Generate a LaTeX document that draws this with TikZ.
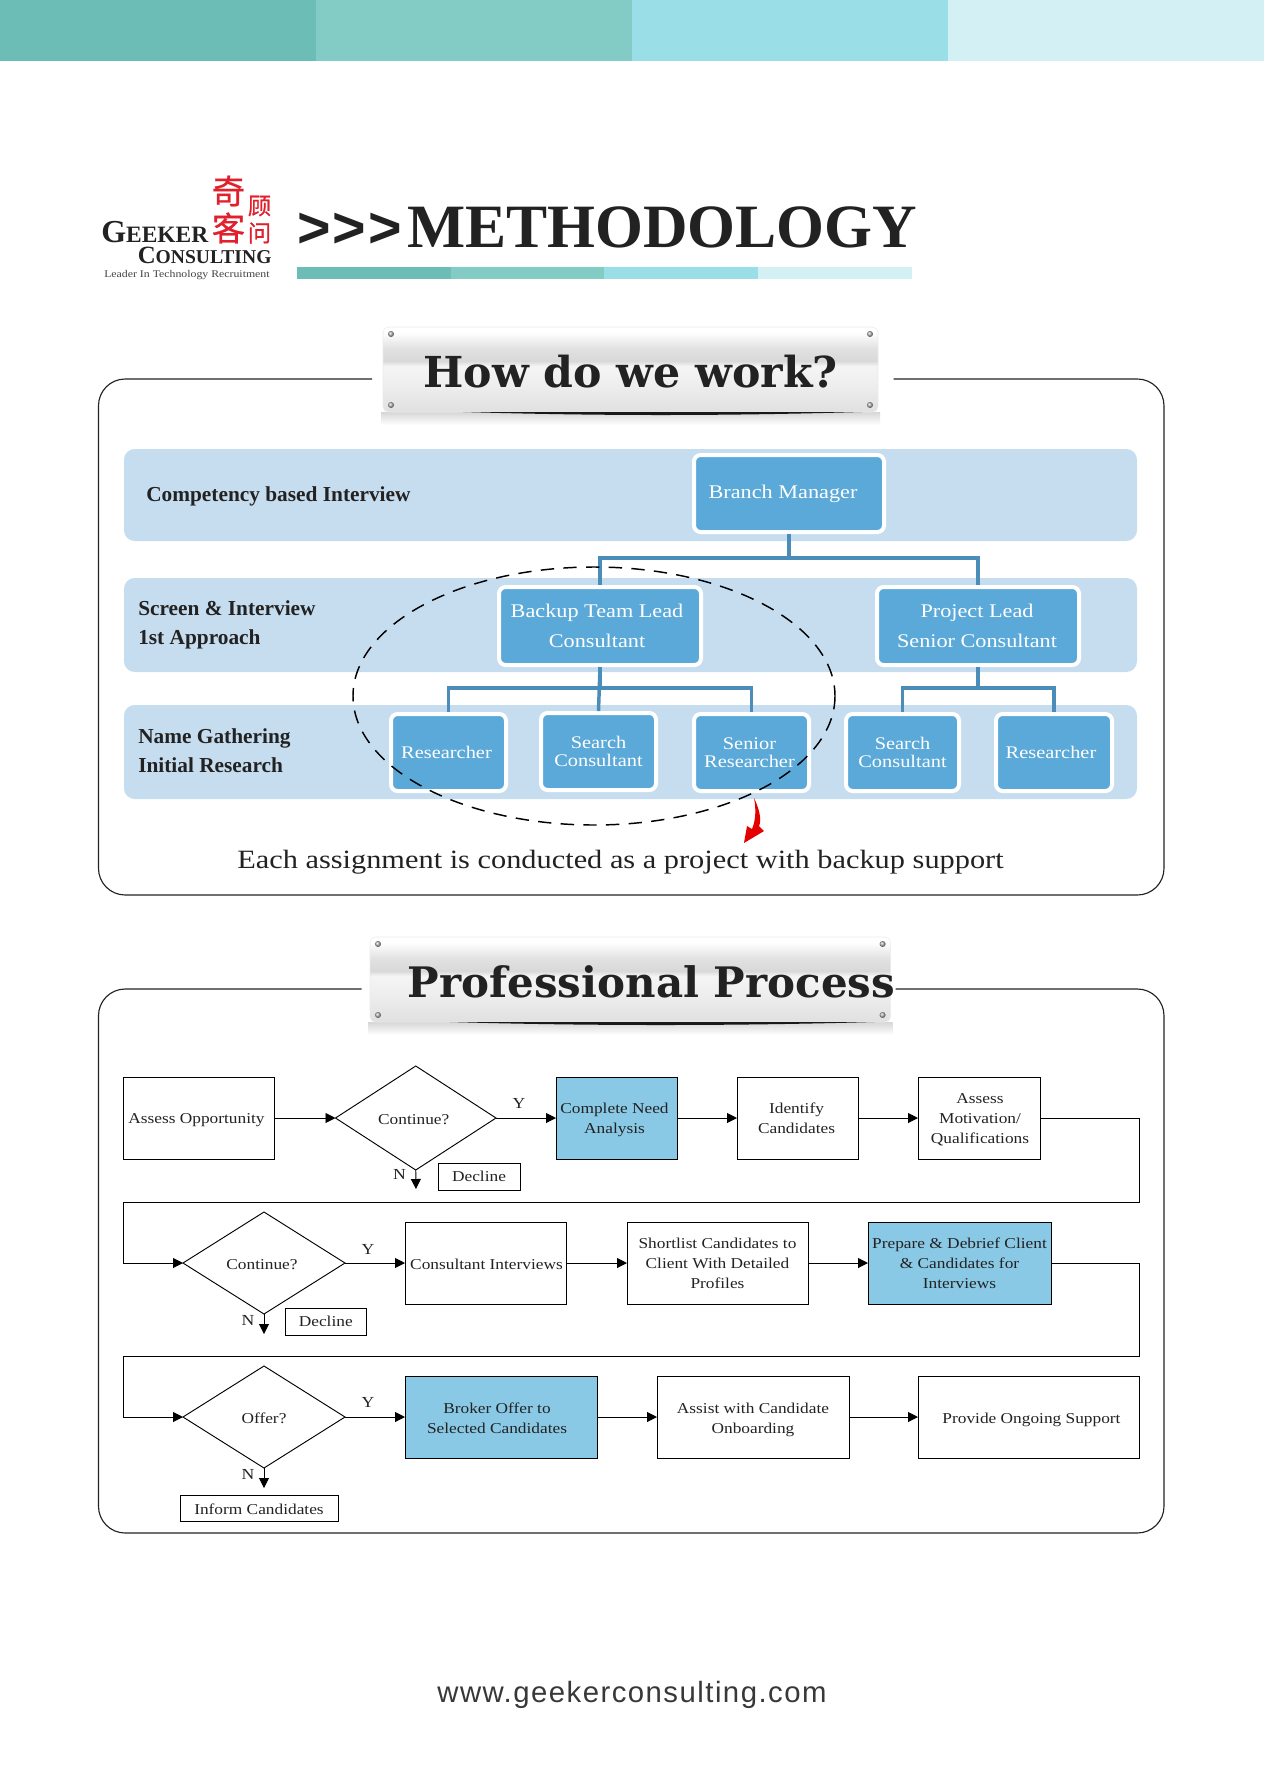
\documentclass[tikz,border=0pt]{standalone}
\usepackage{fontspec}
\usetikzlibrary{arrows.meta,shapes.geometric}
\setmainfont{Liberation Serif}
\newfontfamily\wide[FakeStretch=1.15]{Liberation Serif}
\newfontfamily\head{DejaVu Serif}
\newfontfamily\titlef{Liberation Serif}
\newfontfamily\chev[LetterSpace=4]{Liberation Sans}
\newfontfamily\url[LetterSpace=5]{Liberation Sans}
\newfontfamily\cjk[FakeBold=0.8]{Noto Sans CJK SC}
\newcommand\fs[2]{\fontsize{#1}{#2}\selectfont}
\definecolor{t1}{HTML}{6BBDB6}\definecolor{t2}{HTML}{82CCC5}\definecolor{t3}{HTML}{9ADFE8}\definecolor{t4}{HTML}{D3F0F5}
\definecolor{bandc}{HTML}{C6DDF0}\definecolor{orgc}{HTML}{5AA9D9}\definecolor{connc}{HTML}{4A8DB8}
\definecolor{flowb}{HTML}{8AC9E5}\definecolor{ink}{HTML}{222222}\definecolor{logored}{HTML}{E0202C}
\pgfdeclareverticalshading{plaque}{100bp}{color(0bp)=(white!88!black);color(25bp)=(white!88!black);color(40bp)=(white!93!black);color(52bp)=(white!96!black);color(55bp)=(white!85!black);color(62bp)=(white!88!black);color(72bp)=(white);color(100bp)=(white)}
\pgfdeclareverticalshading{reflect}{100bp}{color(0bp)=(white);color(25bp)=(white);color(75bp)=(white!84!black);color(100bp)=(white!84!black)}
% \pxn{style}{name}{x1}{y1}{x2}{y2}: box from corners, text \flowtext offset by \dx,\dy
\newcommand\flowtext{}
\newcommand\dx{0}
\newcommand\dy{0}
\newcommand\pxn[6]{\pgfmathsetmacro\cxv{(#3+#5)/2}\pgfmathsetmacro\cyv{(#4+#6)/2}\pgfmathsetmacro\wv{(#5-#3)*0.75}\pgfmathsetmacro\hv{(#6-#4)*0.75}%
 \node[#1,minimum width=\wv pt,minimum height=\hv pt] (#2) at (\cxv,\cyv) {};
 \node[#1,draw=none,fill=none,shape=rectangle] (#2t) at (\cxv+\dx,\cyv+\dy) {\flowtext};}
\tikzset{
 panel/.style={draw=ink,line width=0.85pt,rounded corners=20pt},
 orgbox/.style={draw=white,fill=orgc,line width=3pt,rounded corners=5pt,inner sep=0pt,align=center,text=white,font=\wide\fs{14.5}{22.5}},
 orgsmall/.style={orgbox,font=\wide\fs{13.3}{13.5}},
 conn/.style={draw=connc,line width=2.6pt},
 flowbox/.style={draw=black,line width=0.7pt,inner sep=0pt,outer sep=0pt,align=center,font=\wide\fs{11.3}{15},text=ink},
 flowfill/.style={flowbox,fill=flowb},
 flowdia/.style={flowbox,shape=diamond},
 arr/.style={draw=black,line width=0.7pt,-{Triangle[length=7.5pt,width=7.5pt]}},
 lab/.style={inner sep=0pt,font=\wide\fs{11.5}{15},text=ink},
 bandlab/.style={inner sep=0pt,anchor=west,align=left,font=\bfseries\fs{16}{22},text=ink},
 plaquetxt/.style={inner sep=0pt,anchor=base,text=ink,font=\head\bfseries\fs{32}{32}},
 rivet/.style={ball color=gray!60},
}
\newcommand\plaque[5]{% x1 y1 x2 y2 refl-y
 \shade[shading=reflect] (#1-2,#4) rectangle (#3+2,#5);
 \shade[shading=plaque,rounded corners=4pt,draw=black!8] (#1,#2) rectangle (#3,#4);
 \fill[black!90] (#1+80,#4) .. controls (#1+220,#4+4) and (#3-160,#4+4) .. (#3-16,#4) -- cycle;
 \foreach \rx in {#1+8,#3-8} \foreach \ry in {#2+7,#4-7} \shade[rivet] (\rx,\ry) circle [radius=3];
}
\begin{document}
\begin{tikzpicture}[x=0.75pt,y=-0.75pt]
\useasboundingbox (0,0) rectangle (1264,1778);
% top bands
\fill[t1] (0,0) rectangle (316,61);
\fill[t2] (316,0) rectangle (632,61);
\fill[t3] (632,0) rectangle (948,61);
\fill[t4] (948,0) rectangle (1264,61);
% logo
\node[inner sep=0pt,anchor=base west,text=ink,font=\bfseries] (lg1) at (101,242) {\fs{24}{25}G\fs{17.6}{19}EEKER};
\node[inner sep=0pt,anchor=base west,text=ink,font=\bfseries] (lg2) at (137.5,263) {\fs{18.6}{19}C\fs{14.7}{15}ONSULTING};
\node[inner sep=0pt,anchor=base west,text=ink!85,font=\wide\fs{7.7}{8}] (lg3) at (104,277) {Leader In Technology Recruitment};
\node[inner sep=0pt,text=logored,font=\cjk\fs{25}{25}] (cn1) at (228.5,191) {奇};
\node[inner sep=0pt,text=logored,font=\cjk\fs{25}{25}] (cn2) at (228.5,228) {客};
\node[inner sep=0pt,text=logored,font=\cjk\fs{17.5}{18}] (cn3) at (259.5,206) {顾};
\node[inner sep=0pt,text=logored,font=\cjk\fs{17.5}{18}] (cn4) at (259.5,233) {问};
% title
\node[inner sep=0pt,anchor=base west,text=ink,font=\chev\bfseries\fs{43}{43}] (chev) at (297,247) {>>>};
\node[inner sep=0pt,anchor=base west,text=ink,font=\titlef\bfseries\fs{46.2}{46}] (title) at (407,247) {METHODOLOGY};
\fill[t1] (297,267) rectangle (451,279);
\fill[t2] (451,267) rectangle (604,279);
\fill[t3] (604,267) rectangle (758,279);
\fill[t4] (758,267) rectangle (912,279);
% panel 1
\draw[panel] (372,379) -- (98.5,379) -- (98.5,895) -- (1164,895) -- (1164,379) -- (893.5,379);
\plaque{383}{327}{878}{412}{425}
\node[plaquetxt] (how) at (630.5,387) {How do we work?};
% bands
\fill[bandc,rounded corners=8pt] (124,449) rectangle (1137,541);
\fill[bandc,rounded corners=8pt] (124,578) rectangle (1137,672);
\fill[bandc,rounded corners=8pt] (124,705) rectangle (1137,799);
\node[bandlab] (bl1) at (146,496) {Competency based Interview};
\node[bandlab] (bl2) at (138,625) {Screen \& Interview\\1st Approach};
\node[bandlab] (bl3) at (138,751) {Name Gathering\\Initial Research};
% org boxes
\renewcommand\dx{-6}\renewcommand\flowtext{Branch Manager\vphantom{g}}\pxn{orgbox}{bm}{694}{455}{884}{532}
\renewcommand\dx{-3}\renewcommand\flowtext{Backup Team Lead\\Consultant}\pxn{orgbox}{bk}{499}{587}{701}{665}
\renewcommand\dx{-1}\renewcommand\flowtext{Project Lead\\Senior Consultant}\pxn{orgbox}{pl}{877}{587}{1079}{665}
\renewcommand\dx{-2}\renewcommand\flowtext{Researcher}\pxn{orgsmall}{r1}{391}{714}{506}{791}
\renewcommand\dx{0}\renewcommand\flowtext{Search\\Consultant}\pxn{orgsmall}{s1}{541}{713}{656}{790}
\renewcommand\dx{-2}\renewcommand\flowtext{Senior\\Researcher}\pxn{orgsmall}{sr}{694}{714}{809}{791}
\renewcommand\dx{0}\renewcommand\flowtext{Search\\Consultant}\pxn{orgsmall}{s2}{846}{714}{959}{791}
\renewcommand\dx{-3}\renewcommand\flowtext{Researcher}\pxn{orgsmall}{r2}{996}{714}{1112}{791}
% org connectors
\draw[conn] (bm.south) -- ++(0,24) -| (bk.north);
\draw[conn] (bm.south) -- ++(0,24) -| (pl.north);
\draw[conn] (bk.south) -- ++(0,21) -| (r1.north);
\draw[conn] (bk.south) -- ++(0,21) -| (sr.north);
\draw[conn] (bk.south) -- (s1.north);
\draw[conn] (pl.south) -- ++(0,21) -| (s2.north);
\draw[conn] (pl.south) -- ++(0,21) -| (r2.north);
% dashed ellipse and red arrow
\draw[black,line width=1.1pt,dash pattern=on 10pt off 7pt] (594,696) ellipse [x radius=241,y radius=129];
\fill[red!90!black] (754,798) .. controls (759,808) and (762,820) .. (759,826) -- (764,831) -- (744,843) -- (747,826) -- (752,829) .. controls (756,820) and (756,808) .. (754,798) -- cycle;
\node[inner sep=0pt,anchor=base,text=ink,font=\wide\fs{19.8}{20}] (cap) at (620.5,868) {Each assignment is conducted as a project with backup support};
% panel 2
\draw[panel] (361.7,989) -- (98.5,989) -- (98.5,1533) -- (1164,1533) -- (1164,989) -- (895.5,989);
\plaque{370}{937}{890.6}{1022}{1035}
\node[plaquetxt,font=\head\bfseries\fs{31.5}{32}] (pro) at (651.5,997) {Professional Process};
% flow row 1
\renewcommand\dy{2}
\renewcommand\dx{-2}\renewcommand\flowtext{Assess Opportunity}\pxn{flowbox}{a1}{123}{1077}{274}{1159}
\renewcommand\flowtext{Continue?}\pxn{flowdia}{d1}{335.5}{1066}{496}{1170}
\renewcommand\flowtext{Complete Need\\Analysis}\pxn{flowfill}{a2}{556}{1077}{677}{1159}
\renewcommand\dx{-1}\renewcommand\dy{0.5}\renewcommand\flowtext{Identify\\Candidates}\pxn{flowbox}{a3}{737}{1077}{858}{1159}
\renewcommand\dx{1}\renewcommand\dy{2}\renewcommand\flowtext{Assess\\Motivation/\\Qualifications}\pxn{flowbox}{a4}{918}{1077}{1040}{1159}
\renewcommand\dx{0}\renewcommand\dy{0}\renewcommand\flowtext{Decline}\pxn{flowbox}{dc1}{438}{1163}{520}{1190}
\node[lab] (y1) at (519,1103) {Y};
\node[lab] (n1) at (399.6,1174) {N};
\coordinate (dn1) at (416,1189);
\draw[arr] (a1.east) -- (d1.west);
\draw[arr] (d1.east) -- (a2.west);
\draw[arr] (a2.east) -- (a3.west);
\draw[arr] (a3.east) -- (a4.west);
\draw[arr] (d1.south) -- (dn1);
% flow row 2
\renewcommand\dy{1.5}
\renewcommand\dx{-2}\renewcommand\flowtext{Continue?}\pxn{flowdia}{d2}{183}{1212}{345}{1314}
\renewcommand\dx{1}\renewcommand\flowtext{Consultant Interviews}\pxn{flowbox}{b1}{405}{1222}{566}{1304}
\renewcommand\dx{0}\renewcommand\dy{0}\renewcommand\flowtext{Shortlist Candidates to\\Client With Detailed\\Profiles}\pxn{flowbox}{b2}{627}{1222}{808}{1304}
\renewcommand\flowtext{Prepare \& Debrief Client\\\& Candidates for\\Interviews}\pxn{flowfill}{b3}{868}{1222}{1051}{1304}
\renewcommand\flowtext{Decline}\pxn{flowbox}{dc2}{285}{1308}{366.5}{1335}
\node[lab] (y2) at (368,1249) {Y};
\node[lab] (n2) at (248,1320) {N};
\coordinate (dn2) at (264,1334);
\coordinate (ra) at (1139,1202);
\coordinate (la) at (123,1202);
\draw[arr] (a4.east) -| (ra) -- (la) |- (d2.west);
\draw[arr] (d2.east) -- (b1.west);
\draw[arr] (b1.east) -- (b2.west);
\draw[arr] (b2.east) -- (b3.west);
\draw[arr] (d2.south) -- (dn2);
% flow row 3
\renewcommand\dy{1}
\renewcommand\dx{0}\renewcommand\flowtext{Offer?}\pxn{flowdia}{d3}{183}{1366}{345}{1468}
\renewcommand\dx{-4}\renewcommand\flowtext{Broker Offer to\\Selected Candidates}\pxn{flowfill}{c1}{405}{1376}{597}{1458}
\renewcommand\dx{0}\renewcommand\dy{3}\renewcommand\flowtext{Assist with Candidate\\Onboarding}\pxn{flowbox}{c2}{657}{1376}{849}{1458}
\renewcommand\dx{3}\renewcommand\flowtext{Provide Ongoing Support}\pxn{flowbox}{c3}{918}{1376}{1139}{1458}
\renewcommand\dx{0}\renewcommand\dy{1}\renewcommand\flowtext{Inform Candidates}\pxn{flowbox}{ic}{180}{1495}{338}{1521}
\node[lab] (y3) at (368,1402) {Y};
\node[lab] (n3) at (248,1474) {N};
\coordinate (dn3) at (264,1488);
\coordinate (rb) at (1139,1356);
\coordinate (lb) at (123,1356);
\draw[arr] (b3.east) -| (rb) -- (lb) |- (d3.west);
\draw[arr] (d3.east) -- (c1.west);
\draw[arr] (c1.east) -- (c2.west);
\draw[arr] (c2.east) -- (c3.west);
\draw[arr] (d3.south) -- (dn3);
% url
\node[inner sep=0pt,anchor=base,text=ink!90,font=\url\fs{22}{22}] (web) at (632,1702) {www.geekerconsulting.com};
\end{tikzpicture}
\end{document}
